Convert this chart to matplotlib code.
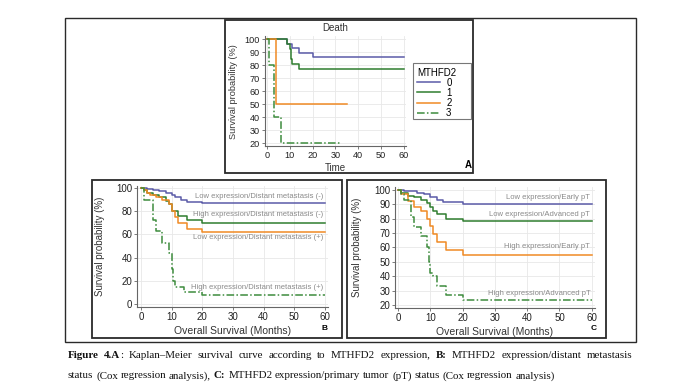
import matplotlib
matplotlib.use('Agg')
import matplotlib.pyplot as plt
from matplotlib.patches import Rectangle

plt.rcParams['font.family'] = ['Liberation Sans', 'DejaVu Sans']

# Panel A: survival by MTHFD2 score
a_groups = ['0', '1', '2', '3']
a_time = [
    [0, 9, 11, 14, 20, 60],
    [0, 9, 10, 10.5, 11, 14, 60],
    [0, 4, 35],
    [0, 1, 3, 6, 32],
]
a_surv = [
    [100, 96.5, 93, 89.5, 86, 86],
    [100, 96, 92, 85, 81, 77, 77],
    [100, 50, 50],
    [100, 80, 40, 20, 20],
]

# Panel B: expression / distant metastasis
b_labels = ['Low expression/Distant metastasis (-)',
            'High expression/Distant metastasis (-)',
            'Low expression/Distant metastasis (+)',
            'High expression/Distant metastasis (+)']
b_time = [
    [0, 2, 4, 6, 8, 10, 11, 13, 15, 20, 60],
    [0, 1, 2, 4, 6, 8, 9, 10, 12, 15, 20, 60],
    [0, 1, 2, 3, 5, 7, 9, 10, 11, 12, 15, 20, 60],
    [0, 1, 4, 5, 7, 9, 10, 10.5, 11, 14, 20, 60],
]
b_surv = [
    [100, 99, 98, 97, 96, 94, 92, 90, 88, 87, 87],
    [100, 98, 96, 94, 92, 89, 86, 80, 76, 72, 70, 70],
    [100, 98, 96, 94, 92, 90, 86, 80, 75, 70, 65, 62, 62],
    [100, 90, 72, 63, 53, 44, 30, 20, 15, 10, 8, 8],
]
b_label_y = [93, 77, 57, 14]

# Panel C: expression / primary tumor
c_labels = ['Low expression/Early pT',
            'Low expression/Advanced pT',
            'High expression/Early pT',
            'High expression/Advanced pT']
c_time = [
    [0, 2, 4, 6, 8, 10, 12, 14, 20, 60],
    [0, 1, 3, 5, 7, 9, 10, 11, 12, 15, 20, 60],
    [0, 1, 3, 5, 7, 9, 10, 11, 12, 15, 20, 60],
    [0, 1, 2, 4, 5, 7, 9, 9.5, 10, 11, 12, 15, 20, 60],
]
c_surv = [
    [100, 99.5, 99, 98, 97, 95, 93, 91.5, 90.5, 90.5],
    [100, 98, 96, 95, 93, 91, 88, 85, 83, 80, 78.5, 78.5],
    [100, 97, 92, 88, 85, 80, 75, 69, 64, 58, 55, 55],
    [100, 97, 93, 81, 74, 68, 60, 50, 42, 40, 33, 27, 23.5, 23.5],
]
c_label_y = [94.5, 83, 60.5, 28]

colors = ['#5b5ba8', '#2f7d2f', '#f08a24', '#3d8c3d']
styles = ['-', '-', '-', (0, (5, 1.5, 1, 1.5))]

W, H = 700, 384
fig = plt.figure(figsize=(W / 100, H / 100), dpi=100)


def fbox(l, t, r, b):
    return [l / W, 1 - b / H, (r - l) / W, (b - t) / H]


def frame(l, t, r, b, lw=1.3, ec='#2a2a2a'):
    fig.patches.append(Rectangle((l / W, 1 - b / H), (r - l) / W, (b - t) / H,
                                 transform=fig.transFigure, fill=False,
                                 edgecolor=ec, lw=lw))


def style(ax, fs):
    for s in ['top', 'right']:
        ax.spines[s].set_visible(False)
    for s in ['left', 'bottom']:
        ax.spines[s].set_color('#666')
        ax.spines[s].set_linewidth(0.8)
    ax.tick_params(direction='out', length=2, width=0.6, labelsize=fs,
                   color='#666', labelcolor='#222', pad=1.5)
    ax.grid(True, color='#e8e8e8', lw=0.6)
    ax.set_axisbelow(True)


# frames
frame(65, 17.5, 636, 341.5, lw=1.0)
frame(225, 20, 473, 172.5)
frame(91.5, 180, 341.5, 337.5)
frame(347, 180, 605.5, 337.5)

# ---- Panel A
axA = fig.add_axes(fbox(265, 36.4, 406.3, 146))
for t, s, c, ls, g in zip(a_time, a_surv, colors, styles, a_groups):
    axA.step(t, s, where='post', color=c, ls=ls, lw=1.1, label=g)
axA.set_xlim(-0.8, 61)
axA.set_ylim(17.7, 102)
axA.set_xticks(range(0, 61, 10))
axA.set_yticks(range(20, 101, 10))
style(axA, 6.6)
axA.set_title('Death', fontsize=7, color='#333', pad=4)
axA.set_xlabel('Time', fontsize=7, color='#333', labelpad=2)
axA.set_ylabel('Survival probability (%)', fontsize=6.6, color='#333')
axA.yaxis.set_label_coords((238 - 265) / (406.3 - 265), 0.5)
# legend frame drawn by hand so it keeps the wide box of the original
frame(413, 63, 471, 119, lw=0.8, ec='#777')
axA.legend(title='MTHFD2', loc='upper left',
           bbox_to_anchor=(417 / W, 1 - 67.5 / H), bbox_transform=fig.transFigure,
           fontsize=7, title_fontsize=7, frameon=False, alignment='left',
           handlelength=2.4, borderpad=0, labelspacing=0.02,
           handletextpad=0.6, borderaxespad=0)
fig.text(468 / W, 1 - 165 / H, 'A', fontsize=7, fontweight='bold',
         ha='center', va='center')

# ---- Panel B
axB = fig.add_axes(fbox(137, 185.7, 328, 307))
for t, s, c, ls in zip(b_time, b_surv, colors, styles):
    axB.step(t, s, where='post', color=c, ls=ls, lw=1.1)
for lab, y in zip(b_labels, b_label_y):
    axB.text(59.5, y, lab, fontsize=5.5, color='#8a8a8a', ha='right', va='center')
axB.set_xlim(-1.3, 61)
axB.set_ylim(-2.6, 102)
axB.set_xticks(range(0, 61, 10))
axB.set_yticks(range(0, 101, 20))
style(axB, 7)
axB.set_xlabel('Overall Survival (Months)', fontsize=7.5, color='#333', labelpad=3)
axB.set_ylabel('Survival probability (%)', fontsize=7, color='#333')
axB.yaxis.set_label_coords((105 - 137) / (328 - 137), 0.5)
fig.text(324 / W, 1 - 328 / H, 'B', fontsize=6, fontweight='bold',
         ha='center', va='center')

# ---- Panel C
axC = fig.add_axes(fbox(395, 187, 595, 308))
for t, s, c, ls in zip(c_time, c_surv, colors, styles):
    axC.step(t, s, where='post', color=c, ls=ls, lw=1.1)
for lab, y in zip(c_labels, c_label_y):
    axC.text(59.5, y, lab, fontsize=5.5, color='#8a8a8a', ha='right', va='center')
axC.set_xlim(-0.9, 61)
axC.set_ylim(17.9, 102)
axC.set_xticks(range(0, 61, 10))
axC.set_yticks(range(20, 101, 10))
style(axC, 7)
axC.set_xlabel('Overall Survival (Months)', fontsize=7.5, color='#333', labelpad=3)
axC.set_ylabel('Survival probability (%)', fontsize=7, color='#333')
axC.yaxis.set_label_coords((362 - 395) / (595 - 395), 0.5)
fig.text(594 / W, 1 - 328 / H, 'C', fontsize=6, fontweight='bold',
         ha='center', va='center')

# ---- caption, word by word so bold parts line up
line1 = [('Figure', 'bold'), ('4.A', 'bold'), (':', 'normal'), ('Kaplan–Meier', 'normal'),
         ('survival', 'normal'), ('curve', 'normal'), ('according', 'normal'), ('to', 'normal'),
         ('MTHFD2', 'normal'), ('expression,', 'normal'), ('B:', 'bold'), ('MTHFD2', 'normal'),
         ('expression/distant', 'normal'), ('metastasis', 'normal')]
line2 = [('status', 'normal'), ('(Cox', 'normal'), ('regression', 'normal'),
         ('analysis),', 'normal'), ('C:', 'bold'), ('MTHFD2', 'normal'),
         ('expression/primary', 'normal'), ('tumor', 'normal'), ('(pT)', 'normal'),
         ('status', 'normal'), ('(Cox', 'normal'), ('regression', 'normal'),
         ('analysis)', 'normal')]
cap_font = ['Liberation Serif', 'DejaVu Serif']
renderer = fig.canvas.get_renderer()


def word_widths(words, fs):
    out = []
    for w, wt in words:
        t = fig.text(0, 0, w, fontsize=fs, fontweight=wt, family=cap_font)
        out.append(t.get_window_extent(renderer).width)
        t.remove()
    return out


def natural(words, fs):
    sp = 0.25 * fs * 100 / 72
    gaps = [0 if w == ':' else sp for w, _ in words[1:]]
    return sum(word_widths(words, fs)) + sum(gaps)


# size the caption so the second (unjustified) line ends about where it does
cap_fs = 8 * (552 - 68) / natural(line2, 8)


def put_line(words, y, x0, x1=None):
    widths = word_widths(words, cap_fs)
    sp = 0.25 * cap_fs * 100 / 72
    gaps = [0 if w == ':' else sp for w, _ in words[1:]]
    if x1 is not None:
        extra = (x1 - x0) - sum(widths) - sum(gaps)
        n = sum(1 for g in gaps if g > 0)
        gaps = [g + extra / n if g > 0 else 0 for g in gaps]
    x = x0
    for i, (w, wt) in enumerate(words):
        fig.text(x / W, 1 - y / H, w, fontsize=cap_fs, fontweight=wt,
                 family=cap_font, color='#111', va='center', ha='left')
        x += widths[i]
        if i < len(gaps):
            x += gaps[i]


put_line(line1, 356, 68, 632)
put_line(line2, 376, 68)

fig.savefig('out.png', dpi=100)
